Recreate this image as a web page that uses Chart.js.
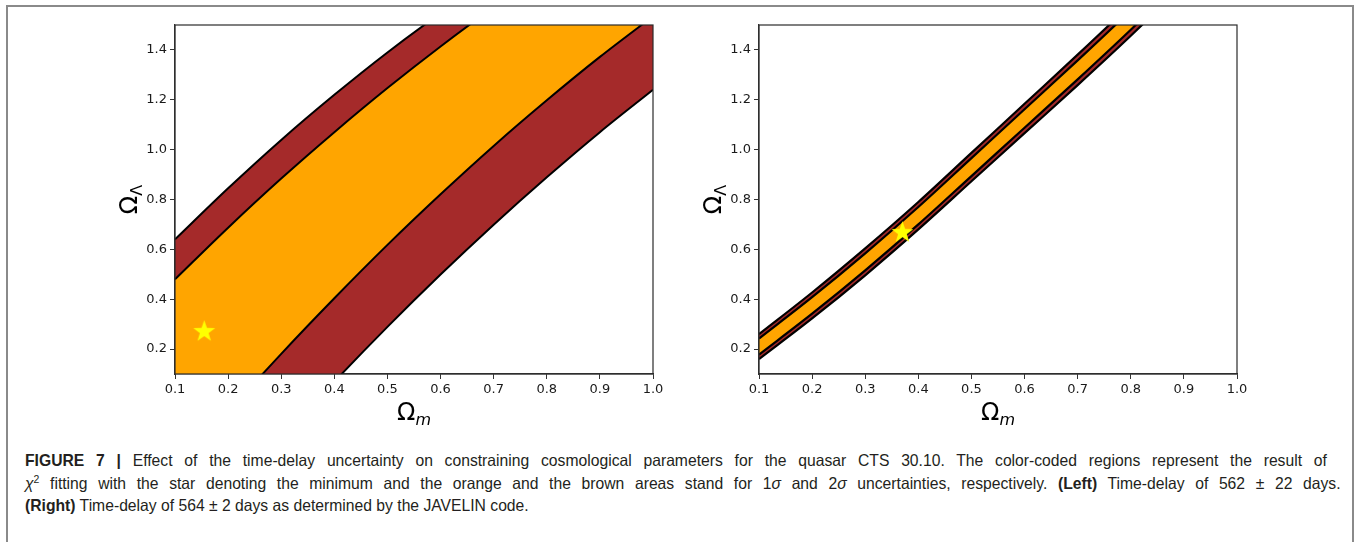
<!DOCTYPE html>
<html><head><meta charset="utf-8">
<script src="https://cdn.jsdelivr.net/npm/chart.js@4.4.1/dist/chart.umd.min.js"></script>
<style>
html,body{margin:0;padding:0;background:#fff;width:1358px;height:542px;overflow:hidden;}
#frame{position:absolute;left:6px;top:5px;width:1348px;height:600px;border:2px solid #8a8a8a;box-sizing:border-box;}
.chartbox{position:absolute;top:0;width:580px;height:430px;}
#caption{position:absolute;left:25px;top:449px;font-family:"Liberation Sans Narrow","Arial Narrow","Liberation Sans",sans-serif;font-size:16.5px;color:#231f20;line-height:22.5px;}
.line{white-space:nowrap;display:block;height:22.5px;}
.line span.t{display:inline-block;transform-origin:0 50%;}
</style></head><body>
<div id="frame"></div>
<div class="chartbox" style="left:100px"><canvas id="c1" width="580" height="430"></canvas></div>
<div class="chartbox" style="left:684px"><canvas id="c2" width="580" height="430"></canvas></div>
<div id="caption">
<div class="line"><span class="t" data-w="1302"><b>FIGURE 7 |</b> Effect of the time-delay uncertainty on constraining cosmological parameters for the quasar CTS 30.10. The color-coded regions represent the result of</span></div>
<div class="line"><span class="t" data-w="1316"><i>χ</i><sup style="font-size:11px;line-height:0">2</sup> fitting with the star denoting the minimum and the orange and the brown areas stand for 1<i>σ</i> and 2<i>σ</i> uncertainties, respectively. <b>(Left)</b> Time-delay of 562 ± 22 days.</span></div>
<div class="line"><span class="t" id="last"><b>(Right)</b> Time-delay of 564 ± 2 days as determined by the JAVELIN code.</span></div>
</div>
<script>
// ---- data ----
const OMEGA_M = [0.1, 0.2, 0.3, 0.4, 0.5, 0.6, 0.7, 0.8, 0.9, 1.0];
const X_TICKS = [0.1, 0.2, 0.3, 0.4, 0.5, 0.6, 0.7, 0.8, 0.9, 1.0];
const Y_TICKS = [0.2, 0.4, 0.6, 0.8, 1.0, 1.2, 1.4];
const X_TITLE = ['Ω', 'm'];
const Y_TITLE = ['Ω', 'Λ'];

// left panel (562 ± 22 days): Omega_Lambda of each contour at the Omega_m grid
const LEFT_2SIG_UPPER = [0.64, 0.845, 1.039, 1.22, 1.39, 1.547, 1.693, 1.826, 1.948, 2.057];
const LEFT_1SIG_UPPER = [0.48, 0.687, 0.884, 1.07, 1.247, 1.414, 1.571, 1.718, 1.854, 1.981];
const LEFT_1SIG_LOWER = [-0.296, -0.053, 0.181, 0.404, 0.618, 0.821, 1.015, 1.198, 1.372, 1.535];
const LEFT_2SIG_LOWER = [-0.652, -0.402, -0.162, 0.069, 0.289, 0.499, 0.699, 0.889, 1.07, 1.24];
const LEFT_STAR = [0.155, 0.27];

// right panel (564 ± 2 days)
const RIGHT_2SIG_UPPER = [0.26, 0.427, 0.604, 0.79, 0.987, 1.184, 1.381, 1.583, 1.795, 2.017];
const RIGHT_1SIG_UPPER = [0.242, 0.408, 0.584, 0.77, 0.966, 1.162, 1.358, 1.559, 1.77, 1.991];
const RIGHT_1SIG_LOWER = [0.178, 0.342, 0.516, 0.70, 0.894, 1.088, 1.282, 1.481, 1.69, 1.909];
const RIGHT_2SIG_LOWER = [0.16, 0.323, 0.496, 0.68, 0.873, 1.066, 1.259, 1.457, 1.665, 1.883];
const RIGHT_STAR = [0.37, 0.667];

const ORANGE = '#FFA500', BROWN = '#A52A2A', STAR_YELLOW = '#FFFF00';

function pts(ys){ return OMEGA_M.map((x,i)=>({x:x, y:ys[i]})); }

function makeStar(r){
  const s = Math.ceil(r*2+2);
  const c = document.createElement('canvas'); c.width = s; c.height = s;
  const g = c.getContext('2d'); g.fillStyle = STAR_YELLOW; g.beginPath();
  for(let i=0;i<10;i++){ const rr = i%2 ? r*0.40 : r; const a = -Math.PI/2 + i*Math.PI/5;
    g.lineTo(s/2+rr*Math.cos(a), s/2+rr*Math.sin(a)); }
  g.closePath(); g.fill(); return c;
}

const framePlugin = { id:'frame', afterDatasetsDraw(chart){
  const {ctx, chartArea:a} = chart; ctx.save(); ctx.strokeStyle='#2b2b2b'; ctx.lineWidth=1.2;
  ctx.strokeRect(a.left, a.top, a.right-a.left, a.bottom-a.top); ctx.restore(); } };

function drawSub(ctx, parts, cx, base, subItalic){
  const f1 = '24px "DejaVu Sans"', f2 = (subItalic?'italic ':'') + '16px "DejaVu Sans"';
  ctx.font = f1; const w1 = ctx.measureText(parts[0]).width;
  ctx.font = f2; const w2 = ctx.measureText(parts[1]).width;
  const x0 = cx - (w1+w2)/2;
  ctx.font = f1; ctx.fillText(parts[0], x0, base);
  ctx.font = f2; ctx.fillText(parts[1], x0+w1, base+5);
}
const titlePlugin = { id:'axisTitles', afterDraw(chart){
  const {ctx, chartArea:a} = chart; ctx.save(); ctx.fillStyle='#000'; ctx.textBaseline='alphabetic'; ctx.textAlign='left';
  drawSub(ctx, X_TITLE, (a.left+a.right)/2, a.bottom+46, true);
  ctx.translate(a.left-38, (a.top+a.bottom)/2); ctx.rotate(-Math.PI/2);
  drawSub(ctx, Y_TITLE, 0, 0, false);
  ctx.restore(); } };

function bandDataset(ys, fillColor, fill, lw){
  return { type:'line', data: pts(ys), borderColor:'#000', borderWidth: lw, pointRadius:0,
    cubicInterpolationMode:'monotone', fill: fill, backgroundColor: fillColor, order:1 };
}

function makeChart(id, bands, star, lw){
  const ticksFont = {family:'DejaVu Sans', size:13};
  return new Chart(document.getElementById(id), {
    type:'line',
    data:{ datasets:[
      bandDataset(bands[0], BROWN, '+1', lw),
      bandDataset(bands[1], ORANGE, '+1', lw),
      bandDataset(bands[2], BROWN, '+1', lw),
      bandDataset(bands[3], 'rgba(0,0,0,0)', false, lw),
      { type:'scatter', data:[{x:star[0], y:star[1]}], pointStyle: makeStar(11.5), pointRadius:11.5, order:0 }
    ]},
    options:{
      responsive:false, animation:false, events:[],
      layout:{ padding:{ top:25, right:27, left:0, bottom:0 } },
      plugins:{ legend:{display:false}, tooltip:{enabled:false}, filler:{ drawTime:'beforeDatasetsDraw', propagate:false } },
      scales:{
        x:{ type:'linear', min:0.1, max:1.0,
          afterBuildTicks:s=>{ s.ticks = X_TICKS.map(v=>({value:v})); },
          afterFit:s=>{ s.height = 56; },
          ticks:{ callback:v=>Number(v).toFixed(1), font:ticksFont, color:'#1a1a1a', padding:3, maxRotation:0, autoSkip:false },
          grid:{ display:true, drawOnChartArea:false, drawTicks:true, tickLength:5, color:'#333' },
          border:{ display:true, color:'#333', width:1.2 } },
        y:{ type:'linear', min:0.1, max:1.5,
          afterBuildTicks:s=>{ s.ticks = Y_TICKS.map(v=>({value:v})); },
          afterFit:s=>{ s.width = 75; },
          ticks:{ callback:v=>Number(v).toFixed(1), font:ticksFont, color:'#1a1a1a', padding:3, autoSkip:false },
          grid:{ display:true, drawOnChartArea:false, drawTicks:true, tickLength:5, color:'#333' },
          border:{ display:true, color:'#333', width:1.2 } }
      }
    },
    plugins:[framePlugin, titlePlugin]
  });
}

makeChart('c1', [LEFT_2SIG_UPPER, LEFT_1SIG_UPPER, LEFT_1SIG_LOWER, LEFT_2SIG_LOWER], LEFT_STAR, 2);
makeChart('c2', [RIGHT_2SIG_UPPER, RIGHT_1SIG_UPPER, RIGHT_1SIG_LOWER, RIGHT_2SIG_LOWER], RIGHT_STAR, 2.2);

// caption: scale glyphs so the last line has the reference length, justify the first two
const LAST_LINE_WIDTH = 504;
function fitCaption(){
  const last = document.getElementById('last');
  const s = LAST_LINE_WIDTH / last.offsetWidth;
  document.querySelectorAll('#caption span.t').forEach(sp=>{
    sp.style.transform = 'scaleX(' + s + ')';
    const target = Number(sp.dataset.w || 0);
    if(!target) return;
    const nat = sp.offsetWidth;
    const spaces = (sp.textContent.match(/ /g)||[]).length;
    sp.style.wordSpacing = ((target/s - nat)/spaces) + 'px';
  });
}
if(document.fonts && document.fonts.ready){ document.fonts.ready.then(fitCaption); } else fitCaption();
</script>
</body></html>
